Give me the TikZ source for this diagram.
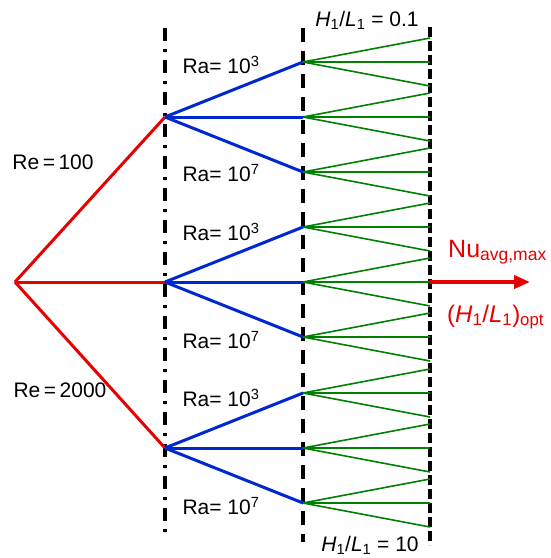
\documentclass[tikz,border=0pt]{standalone}
\usepackage{fontspec}
\setmainfont{Liberation Sans}
\usetikzlibrary{arrows.meta}

\definecolor{reRed}{RGB}{230,0,0}
\definecolor{raBlue}{RGB}{0,40,210}
\definecolor{hGreen}{RGB}{0,128,0}

\tikzset{
  parlabel/.style={font=\fontsize{21}{24}\selectfont, inner sep=0pt},
  optlabel/.style={font=\fontsize{25}{30}\selectfont, text=reRed, inner sep=0pt},
  reline/.style={draw=reRed, line width=3pt},
  raline/.style={draw=raBlue, line width=3pt},
  hline/.style={draw=hGreen, line width=1.6pt},
  guide/.style={draw=black, line width=3.5pt}
}

\begin{document}
\begin{tikzpicture}[x=1pt,y=-1pt]
    \useasboundingbox (0,0) rectangle (550,558);

    % Level guides
    \coordinate (reTop) at (165,28);
    \coordinate (reBot) at (165,537);
    \coordinate (raTop) at (303,28);
    \coordinate (raBot) at (303,542);
    \coordinate (hTop) at (430,27);
    \coordinate (hBot) at (430,545);
    \draw[guide, dash pattern=on 13pt off 8pt on 3pt off 8pt] (reTop) -- (reBot);
    \draw[guide, dash pattern=on 14pt off 9pt] (raTop) -- (raBot);
    \draw[guide, dash pattern=on 10pt off 4pt] (hTop) -- (hBot);

    % Tree: Re -> Ra -> H1/L1
    \coordinate (root) at (15,282);
    \foreach \i/\y in {1/117,2/282,3/448} {
        \coordinate (re\i) at (165,\y);
        \draw[reline] (root) -- (re\i);
        \foreach \j/\d in {1/-55,2/0,3/55} {
            \coordinate (ra\i\j) at (303,{\y+\d});
            \draw[raline] (re\i) -- (ra\i\j);
            \foreach \k/\e in {1/-24,2/0,3/24} {
                \coordinate (h\i\j\k) at (430,{\y+\d+\e});
                \draw[hline] (ra\i\j) -- (h\i\j\k);
            }
        }
    }

    % Optimum arrow
    \coordinate (opt) at (530,282);
    \draw[reRed, line width=4.5pt, -{Triangle[length=16pt,width=13pt]}] (h222) -- (opt);

    % Labels
    \node[parlabel] (re100) at (53,162) {Re\,=\,100};
    \node[parlabel] (re2000) at (60,390) {Re\,=\,2000};
    \node[parlabel] (raA3) at (221,65) {Ra= 10\textsuperscript{3}};
    \node[parlabel] (raA7) at (221,173) {Ra= 10\textsuperscript{7}};
    \node[parlabel] (raB3) at (221,232) {Ra= 10\textsuperscript{3}};
    \node[parlabel] (raB7) at (221,340) {Ra= 10\textsuperscript{7}};
    \node[parlabel] (raC3) at (221,398) {Ra= 10\textsuperscript{3}};
    \node[parlabel] (raC7) at (221,506) {Ra= 10\textsuperscript{7}};
    \node[parlabel] (hlow) at (367,20) {\textit{H}\textsubscript{1}/\textit{L}\textsubscript{1} = 0.1};
    \node[parlabel] (hhigh) at (370,545) {\textit{H}\textsubscript{1}/\textit{L}\textsubscript{1} = 10};
    \node[optlabel, anchor=base west] (nu) at (448,257) {Nu\textsubscript{avg,max}};
    \node[optlabel, font=\fontsize{24}{28}\selectfont, anchor=base west] (hopt) at (447,322) {(\textit{H}\textsubscript{1}/\textit{L}\textsubscript{1})\textsubscript{opt}};
\end{tikzpicture}
\end{document}
